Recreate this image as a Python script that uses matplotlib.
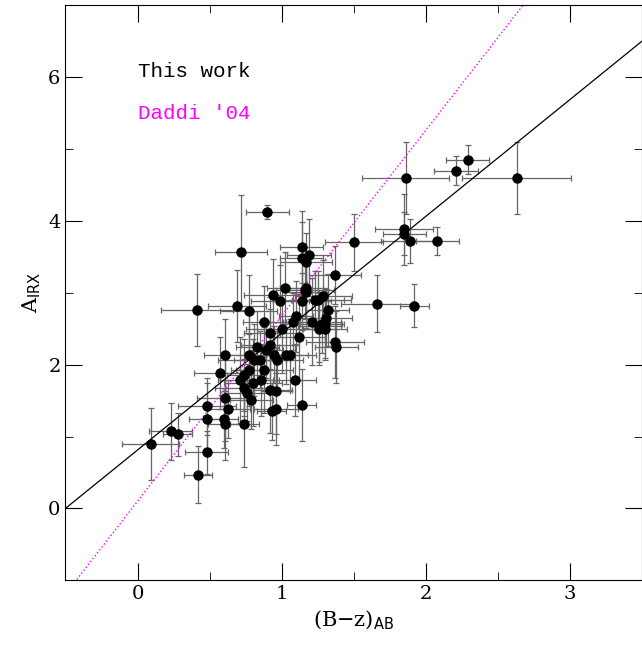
import matplotlib
matplotlib.use("Agg")
import matplotlib.pyplot as plt
import numpy as np
from matplotlib.ticker import MultipleLocator

plt.rcParams['font.family'] = 'DejaVu Serif'

bz = [0.09,0.23,0.28,0.41,0.42,0.48,0.48,0.48,0.57,0.61,0.60,0.61,0.61,0.63,0.69,0.71,0.72,0.74,0.74,0.74,
      0.76,0.77,0.77,0.77,0.79,0.80,0.81,0.83,0.85,0.86,0.88,0.88,0.89,0.90,0.92,0.93,0.92,0.92,0.94,0.95,
      0.96,0.96,0.97,0.99,1.00,1.03,1.02,1.06,1.08,1.09,1.10,1.12,1.14,1.14,1.14,1.16,1.17,1.14,1.17,1.17,
      1.19,1.21,1.23,1.26,1.25,1.26,1.28,1.29,1.30,1.30,1.31,1.32,1.37,1.38,1.37,1.50,1.66,1.85,1.85,1.89,
      1.86,1.92,2.08,2.21,2.29,2.63]
airx = [0.89,1.07,1.03,2.76,0.47,0.78,1.42,1.24,1.88,2.14,1.24,1.54,1.17,1.38,2.81,1.79,3.56,1.86,1.68,1.17,
        1.61,2.75,2.14,1.93,1.51,1.75,2.07,2.25,2.07,1.79,1.93,2.60,2.21,4.12,2.28,1.35,1.65,2.44,2.97,2.14,
        1.38,1.63,2.07,2.88,2.49,2.13,3.07,2.14,2.60,1.79,2.67,2.38,2.88,3.49,3.64,3.04,3.07,1.44,3.01,3.43,
        3.53,2.60,2.90,2.54,2.90,2.49,2.56,2.96,2.49,2.57,2.65,2.76,2.32,2.25,3.25,3.70,2.85,3.88,3.82,3.72,
        4.60,2.82,3.72,4.70,4.85,4.60]
xerr = [0.20,0.15,0.10,0.25,0.10,0.15,0.20,0.12,0.18,0.15,0.10,0.20,0.12,0.15,0.20,0.15,0.18,0.12,0.20,0.10,
        0.15,0.20,0.18,0.12,0.15,0.20,0.25,0.15,0.18,0.12,0.20,0.15,0.12,0.15,0.20,0.10,0.15,0.18,0.20,0.12,
        0.15,0.10,0.18,0.20,0.25,0.15,0.12,0.18,0.20,0.15,0.12,0.18,0.20,0.15,0.15,0.20,0.12,0.10,0.15,0.18,
        0.15,0.20,0.25,0.15,0.18,0.12,0.15,0.20,0.15,0.12,0.18,0.15,0.20,0.15,0.18,0.20,0.25,0.20,0.15,0.20,
        0.30,0.10,0.15,0.15,0.15,0.38]
yerr = [0.50,0.40,0.30,0.50,0.40,0.30,0.40,0.50,0.50,0.50,0.40,0.60,0.50,0.40,0.50,0.60,0.80,0.50,0.40,0.60,
        0.40,0.50,0.60,0.50,0.40,0.60,0.50,0.50,0.40,0.50,0.60,0.50,0.40,0.10,0.50,0.40,0.60,0.50,0.50,0.40,
        0.50,0.60,0.40,0.50,0.60,0.40,0.50,0.50,0.40,0.50,0.50,0.60,0.40,0.50,0.50,0.40,0.40,0.50,0.50,0.40,
        0.50,0.60,0.40,0.50,0.40,0.50,0.40,0.50,0.40,0.50,0.40,0.50,0.50,0.50,0.40,0.40,0.40,0.50,0.30,0.30,
        0.50,0.30,0.20,0.20,0.20,0.50]

fit_slope, fit_int = 1.625, 0.8125
daddi_slope, daddi_int = 2.58, 0.1

fig = plt.figure(figsize=(6.42, 6.52), dpi=100)
ax = fig.add_axes([0.102, 0.11, 0.898, 0.882])
ax.errorbar(bz, airx, xerr=xerr, yerr=yerr, fmt='o', color='black', ms=6.5,
            ecolor='#666666', elinewidth=0.9, capsize=2.5, capthick=0.9)
xx = np.array([-0.5, 3.5])
ax.plot(xx, fit_slope*xx + fit_int, color='black', lw=0.9)
ax.plot(xx, daddi_slope*xx + daddi_int, color='magenta', lw=1, ls=':')
ax.set_xlim(-0.5, 3.5)
ax.set_ylim(-1, 7)
ax.xaxis.set_major_locator(MultipleLocator(1))
ax.xaxis.set_minor_locator(MultipleLocator(0.5))
ax.yaxis.set_major_locator(MultipleLocator(2))
ax.yaxis.set_minor_locator(MultipleLocator(1))
ax.tick_params(which='both', direction='in', top=True, right=True, labelsize=14)
ax.tick_params(which='major', length=12)
ax.tick_params(which='minor', length=6)
ax.set_xlabel('(B$-$z)$_{\\rm AB}$', fontsize=15)
ax.set_ylabel('A$_{\\rm IRX}$', fontsize=15)
ax.text(0.0, 6.0, 'This work', family='Liberation Mono', fontsize=15, color='black')
ax.text(0.0, 5.42, "Daddi '04", family='Liberation Mono', fontsize=15, color='magenta')
fig.savefig('out.png', dpi=100)
